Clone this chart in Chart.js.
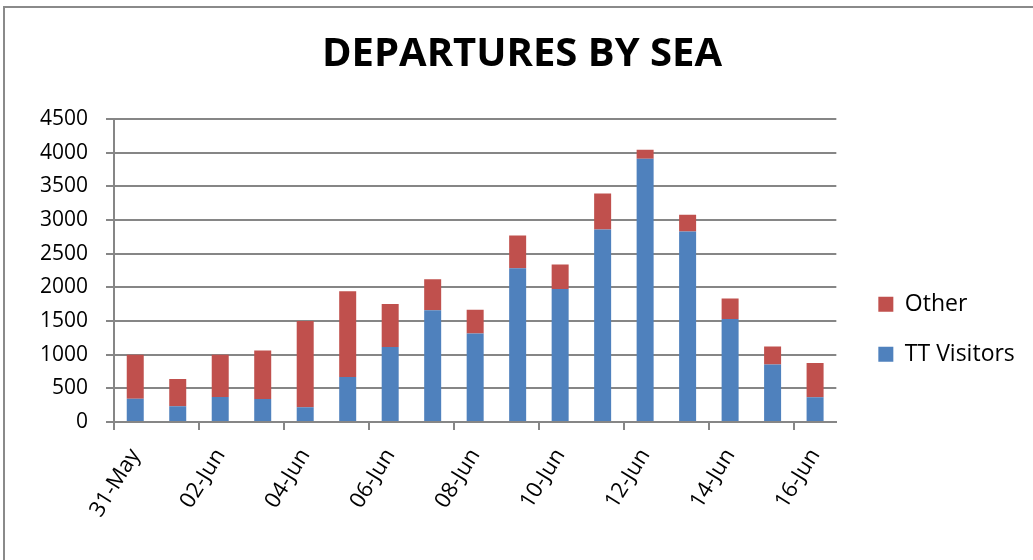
<!DOCTYPE html>
<html>
<head>
<meta charset="utf-8">
<script src="https://cdn.jsdelivr.net/npm/chart.js@4.4.1/dist/chart.umd.min.js"></script>
<style>
  html, body { margin: 0; padding: 0; background: #fff; }
  #wrap { position: relative; width: 1033px; height: 560px; overflow: hidden; }
  #frame { position: absolute; left: 3px; top: 6px; width: 1100px; height: 600px;
           border-left: 2px solid #8a8a8a; border-top: 2px solid #8a8a8a; }
  canvas { position: absolute; left: 0; top: 0; }
</style>
</head>
<body>
<div id="wrap">
  <div id="frame"></div>
  <canvas id="grafico" width="1033" height="560"></canvas>
</div>
<script>
// dados
const dias = ['31-May', '01-Jun', '02-Jun', '03-Jun', '04-Jun', '05-Jun', '06-Jun', '07-Jun', '08-Jun',
  '09-Jun', '10-Jun', '11-Jun', '12-Jun', '13-Jun', '14-Jun', '15-Jun', '16-Jun'];
const ttVisitors = [345, 235, 370, 340, 220, 667, 1113, 1658, 1315, 2283, 1976, 2858, 3910, 2829, 1530, 854, 369];
const outros = [655, 402, 630, 722, 1280, 1273, 640, 461, 353, 486, 362, 536, 134, 248, 306, 268, 506];
const yMin = 0, yMax = 4500, yPasso = 500;

const cinza = '#868686';
const fonte = 'Open Sans';

new Chart(document.getElementById('grafico'), {
  type: 'bar',
  data: {
    labels: dias,
    datasets: [{
      label: 'TT Visitors',
      data: ttVisitors,
      backgroundColor: '#4F81BD'
    }, {
      label: 'Other',
      data: outros,
      backgroundColor: '#C0504D'
    }]
  },
  options: {
    responsive: false,
    animation: false,
    layout: { padding: { left: 28, right: 17, top: 0, bottom: 0 } },
    datasets: { bar: { barPercentage: 0.4, categoryPercentage: 1 } },
    plugins: {
      title: {
        display: true,
        text: 'DEPARTURES BY SEA',
        color: '#000',
        font: { family: fonte, size: 40, weight: 'bold' },
        padding: { top: 31, bottom: 40 }
      },
      legend: {
        position: 'right',
        reverse: true,
        title: { display: true, text: '', padding: { top: 42, bottom: 42 } },
        labels: {
          boxWidth: 15,
          boxHeight: 15,
          padding: 27,
          color: '#000',
          font: { family: fonte, size: 23 }
        }
      },
      tooltip: { enabled: false }
    },
    scales: {
      x: {
        stacked: true,
        grid: {
          offset: true,
          drawOnChartArea: false,
          drawTicks: true,
          tickLength: 8,
          lineWidth: 2,
          tickColor: ctx => ctx.index % 2 === 0 ? cinza : 'rgba(0,0,0,0)'
        },
        border: { display: true, color: cinza, width: 2 },
        ticks: {
          autoSkip: false,
          maxRotation: 58,
          minRotation: 58,
          padding: 14,
          color: '#000',
          font: { family: fonte, size: 22 },
          callback: function (val, i) {
            return i % 2 === 0 ? this.getLabelForValue(val) : '';
          }
        },
        afterFit: s => { s.height = 138; }
      },
      y: {
        stacked: true,
        min: yMin,
        max: yMax,
        grid: { color: cinza, lineWidth: 2, tickLength: 8 },
        border: { display: true, color: cinza, width: 2 },
        ticks: {
          stepSize: yPasso,
          padding: 18,
          color: '#000',
          font: { family: fonte, size: 21 },
          callback: v => String(v)
        },
        afterFit: s => { s.width = 86; }
      },
      folga: {
        position: 'right',
        display: true,
        grid: { display: false },
        border: { display: false },
        ticks: { display: false },
        afterFit: s => { s.width = 15; }
      }
    }
  }
});
</script>
</body>
</html>
